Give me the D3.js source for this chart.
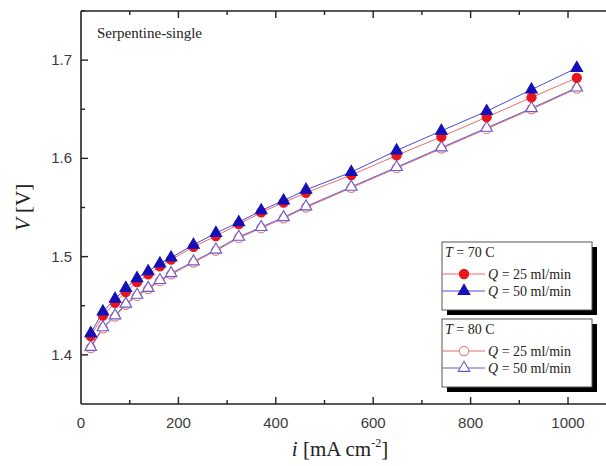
<!DOCTYPE html>
<html>
<head>
<meta charset="utf-8">
<script src="https://cdn.jsdelivr.net/npm/d3@7"></script>
<style>
  body { margin: 0; background: #fff; }
  svg { display: block; }
</style>
</head>
<body>
<div id="chart"></div>
<script>
// Data
var current = [20, 45, 70, 92, 115, 138, 162, 185, 231, 277, 324, 370, 416, 462, 555, 648, 740, 833, 925, 1018];
var v70q25 = [1.419, 1.440, 1.453, 1.464, 1.474, 1.482, 1.490, 1.497, 1.510, 1.521, 1.533, 1.545, 1.555, 1.565, 1.583, 1.603, 1.622, 1.642, 1.662, 1.682];
var v70q50 = [1.422, 1.444, 1.457, 1.468, 1.478, 1.485, 1.493, 1.499, 1.512, 1.524, 1.535, 1.547, 1.557, 1.568, 1.586, 1.608, 1.628, 1.648, 1.670, 1.692];
var v80q25 = [1.407, 1.427, 1.439, 1.451, 1.460, 1.467, 1.475, 1.482, 1.494, 1.506, 1.519, 1.529, 1.539, 1.550, 1.570, 1.590, 1.610, 1.630, 1.650, 1.671];
var v80q50 = [1.408, 1.428, 1.440, 1.452, 1.461, 1.468, 1.476, 1.483, 1.495, 1.507, 1.520, 1.530, 1.540, 1.551, 1.571, 1.591, 1.611, 1.631, 1.651, 1.672];
var xTicks = [0, 200, 400, 600, 800, 1000];
var yTicks = [1.4, 1.5, 1.6, 1.7];

var series = [
  {name: "Q = 25 ml/min", values: v80q25, shape: "circle", fill: "#fff", stroke: "#e88080", line: "#e07070"},
  {name: "Q = 50 ml/min", values: v80q50, shape: "triangle", fill: "#fff", stroke: "#6a58c8", line: "#6a58c8"},
  {name: "Q = 25 ml/min", values: v70q25, shape: "circle", fill: "#e8141c", stroke: "#e8141c", line: "#f06a6a"},
  {name: "Q = 50 ml/min", values: v70q50, shape: "triangle", fill: "#1410b8", stroke: "#1410b8", line: "#4a4ad8"}
];

var W = 606, H = 466;
var margin = {top: 11, left: 81, bottom: 62};

var svg = d3.select("#chart").append("svg")
    .attr("width", W)
    .attr("height", H);

// Scales (right edge of the frame is cut off by the picture)
var x = d3.scaleLinear().domain([0, 1078]).range([margin.left, W]);
var y = d3.scaleLinear().domain([1.35, 1.75]).range([H - margin.bottom, margin.top]);

var plotBottom = H - margin.bottom;

// Frame lines
svg.append("line").attr("x1", margin.left).attr("x2", W).attr("y1", plotBottom).attr("y2", plotBottom)
   .attr("stroke", "#222").attr("stroke-width", 1.6);
svg.append("line").attr("x1", margin.left).attr("x2", W).attr("y1", margin.top).attr("y2", margin.top)
   .attr("stroke", "#222").attr("stroke-width", 1.6);
svg.append("line").attr("x1", margin.left).attr("x2", margin.left).attr("y1", margin.top).attr("y2", plotBottom)
   .attr("stroke", "#222").attr("stroke-width", 1.6);

// Ticks, pointing inward
var xMinor = d3.range(100, 1078, 200);
var yMinor = d3.range(1.45, 1.75, 0.1);
var tickG = svg.append("g").attr("stroke", "#222").attr("stroke-width", 1.4);
xTicks.forEach(function(t) {
  if (t === 0) return;
  tickG.append("line").attr("x1", x(t)).attr("x2", x(t)).attr("y1", plotBottom).attr("y2", plotBottom - 7);
  tickG.append("line").attr("x1", x(t)).attr("x2", x(t)).attr("y1", margin.top).attr("y2", margin.top + 7);
});
xMinor.forEach(function(t) {
  tickG.append("line").attr("x1", x(t)).attr("x2", x(t)).attr("y1", plotBottom).attr("y2", plotBottom - 4);
  tickG.append("line").attr("x1", x(t)).attr("x2", x(t)).attr("y1", margin.top).attr("y2", margin.top + 4);
});
yTicks.forEach(function(t) {
  tickG.append("line").attr("x1", margin.left).attr("x2", margin.left + 7).attr("y1", y(t)).attr("y2", y(t));
});
yMinor.forEach(function(t) {
  tickG.append("line").attr("x1", margin.left).attr("x2", margin.left + 4).attr("y1", y(t)).attr("y2", y(t));
});

// Tick labels
svg.append("g").selectAll("text").data(xTicks).enter().append("text")
   .attr("x", function(d) { return x(d); })
   .attr("y", plotBottom + 24)
   .attr("text-anchor", "middle")
   .attr("font-family", "Liberation Sans, Arial, sans-serif")
   .attr("font-size", 15)
   .attr("fill", "#3a3a3a")
   .text(function(d) { return d; });

svg.append("g").selectAll("text").data(yTicks).enter().append("text")
   .attr("x", margin.left - 9)
   .attr("y", function(d) { return y(d) + 5; })
   .attr("text-anchor", "end")
   .attr("font-family", "Liberation Sans, Arial, sans-serif")
   .attr("font-size", 15)
   .attr("fill", "#3a3a3a")
   .text(function(d) { return d.toFixed(1); });

// Axis titles
var xt = svg.append("text")
   .attr("x", 340).attr("y", 456)
   .attr("text-anchor", "middle")
   .attr("font-family", "Liberation Serif, Times New Roman, serif")
   .attr("font-size", 21)
   .attr("fill", "#222");
xt.append("tspan").attr("font-style", "italic").text("i");
xt.append("tspan").text(" [mA cm");
xt.append("tspan").attr("font-size", 12).attr("dy", -9).text("-2");
xt.append("tspan").attr("dy", 9).text("]");

var yt = svg.append("text")
   .attr("transform", "translate(30," + y(1.55) + ") rotate(-90)")
   .attr("text-anchor", "middle")
   .attr("font-family", "Liberation Serif, Times New Roman, serif")
   .attr("font-size", 21)
   .attr("fill", "#222");
yt.append("tspan").attr("font-style", "italic").text("V");
yt.append("tspan").text(" [V]");

svg.append("text")
   .attr("x", 97).attr("y", 38)
   .attr("font-family", "Liberation Serif, Times New Roman, serif")
   .attr("font-size", 15)
   .attr("fill", "#222")
   .text("Serpentine-single");

// Lines and markers
var line = d3.line()
   .x(function(d, i) { return x(current[i]); })
   .y(function(d) { return y(d); });

var triangle = d3.symbol().type(d3.symbolTriangle).size(58);

function drawMarker(g, s, cx, cy) {
  if (s.shape === "circle") {
    g.append("circle").attr("cx", cx).attr("cy", cy).attr("r", 4.6)
     .attr("fill", s.fill).attr("stroke", s.stroke).attr("stroke-width", 1.1);
  } else {
    g.append("path").attr("d", triangle)
     .attr("transform", "translate(" + cx + "," + cy + ")")
     .attr("fill", s.fill).attr("stroke", s.stroke).attr("stroke-width", 1.1);
  }
}

series.forEach(function(s) {
  svg.append("path")
     .attr("d", line(s.values))
     .attr("fill", "none")
     .attr("stroke", s.line)
     .attr("stroke-width", 1);
});
series.forEach(function(s) {
  var g = svg.append("g");
  s.values.forEach(function(v, i) { drawMarker(g, s, x(current[i]), y(v)); });
});

// Legends
var legends = [
  {title: "70", top: 242, items: [series[2], series[3]]},
  {title: "80", top: 319, items: [series[0], series[1]]}
];
legends.forEach(function(L) {
  var g = svg.append("g");
  var bx = 442, bw = 150, bh = 68;
  g.append("rect").attr("x", bx + 5).attr("y", L.top + 5).attr("width", bw).attr("height", bh).attr("fill", "#000");
  g.append("rect").attr("x", bx).attr("y", L.top).attr("width", bw).attr("height", bh)
   .attr("fill", "#fff").attr("stroke", "#555").attr("stroke-width", 1);
  var t = g.append("text").attr("x", bx + 3).attr("y", L.top + 15)
   .attr("font-family", "Liberation Serif, Times New Roman, serif").attr("font-size", 14).attr("fill", "#222");
  t.append("tspan").attr("font-style", "italic").text("T");
  t.append("tspan").text(" = " + L.title + " C");
  L.items.forEach(function(s, k) {
    var cy = L.top + 32 + k * 17;
    g.append("line").attr("x1", bx).attr("x2", bx + 43).attr("y1", cy).attr("y2", cy)
     .attr("stroke", s.line).attr("stroke-width", 1);
    drawMarker(g, s, bx + 22, cy);
    var tt = g.append("text").attr("x", bx + 46).attr("y", cy + 5)
     .attr("font-family", "Liberation Serif, Times New Roman, serif").attr("font-size", 14).attr("fill", "#222");
    tt.append("tspan").attr("font-style", "italic").text("Q");
    tt.append("tspan").text(s.name.slice(1));
  });
});
</script>
</body>
</html>
